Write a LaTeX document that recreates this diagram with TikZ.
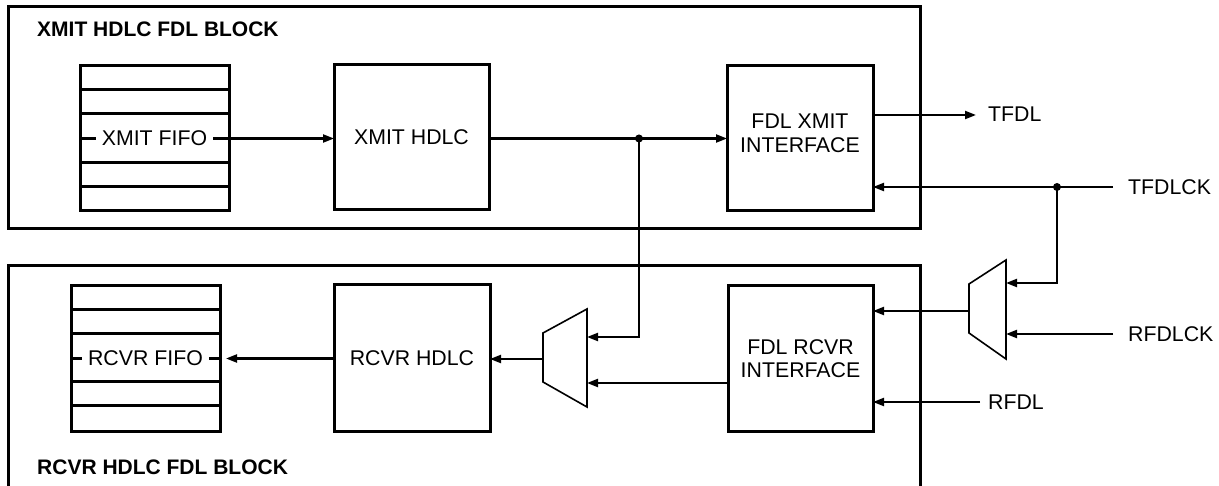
\documentclass[tikz,border=0pt]{standalone}
\usepackage{fontspec}
\setmainfont{Liberation Sans}
\usetikzlibrary{arrows.meta}
\begin{document}
\begin{tikzpicture}[x=1pt,y=-1pt,
  outerblk/.style={line width=3pt},
  box/.style={draw, line width=3pt, outer sep=0pt, inner sep=0pt},
  rowline/.style={line width=3pt},
  conn/.style={line width=2.1pt, -{Triangle[length=11pt,width=8pt]}},
  wire/.style={line width=2.1pt},
  muxs/.style={line width=1.6pt},
  txt/.style={font=\fontsize{21.3}{23.5}\selectfont, inner sep=0pt, align=center},
  ftxt/.style={font=\fontsize{21.3}{23.5}\selectfont, fill=white, inner ysep=1pt, inner xsep=6pt},
  btxt/.style={font=\fontsize{21}{24}\selectfont\bfseries, inner sep=0pt, anchor=west},
  dot/.style={circle, fill, inner sep=0pt, minimum size=8pt}
]
\useasboundingbox (0,0) rectangle (1219,486);
\fill[white] (0,0) rectangle (1219,486);

% outer blocks
\draw[outerblk] (8,7) rectangle (920,229);
\draw[outerblk] (8,492) -- (8,265.5) -- (920,265.5) -- (920,492);
\node[btxt] (ttitle) at (37,29) {XMIT HDLC FDL BLOCK};
\node[btxt] (btitle) at (37,467) {RCVR HDLC FDL BLOCK};

% ---------- transmit side ----------
\node[box, minimum width=149pt, minimum height=145pt] (xfifo) at (154.5,138.5) {};
\foreach \yy in {90,114,163,187} \draw[rowline] (80,\yy) -- (229,\yy);
\draw[wire] (xfifo.west) -- (xfifo.east);
\node[ftxt] (xfifot) at (154.5,138.5) {XMIT FIFO};

\node[box, minimum width=155pt, minimum height=145pt, txt] (xhdlc) at (411.5,137.5) {XMIT HDLC};
\node[box, minimum width=146pt, minimum height=145pt] (fxi) at (800,138.5) {};
\node[txt] (fxit) at (800,133.5) {FDL XMIT\\INTERFACE};

\coordinate (xj) at (639,138.5);
\draw[conn] (xfifo.east) -- (xhdlc.west |- xfifo.east);
\draw[conn] (xhdlc.east |- xj) -- (fxi.west);
\node[dot] (xjd) at (xj) {};

% TFDL output
\coordinate (tfdlend) at (976,115);
\draw[conn] (fxi.east |- tfdlend) -- (tfdlend);
\node[txt, anchor=west] (tfdl) at (988,114) {TFDL};

% TFDLCK input
\coordinate (tck) at (1113,187);
\node[txt, anchor=west] (tfdlck) at (1128,187) {TFDLCK};
\draw[conn] (tck) -- (fxi.east |- tck);
\coordinate (ckj) at (1057,187);
\node[dot] (ckjd) at (ckj) {};

% ---------- right mux ----------
\coordinate (m2a) at (969,284);
\coordinate (m2b) at (1006,260);
\coordinate (m2c) at (1006,359);
\coordinate (m2d) at (969,333);
\draw[muxs] (m2a) -- (m2b) -- (m2c) -- (m2d) -- cycle;
\coordinate (m2in1) at (1006,283);
\coordinate (m2in2) at (1006,334);
\coordinate (m2out) at (969,311);
\draw[conn] (ckj) |- (m2in1);
\coordinate (rck) at (1113,334);
\draw[conn] (rck) -- (m2in2);
\node[txt, anchor=west] (rfdlck) at (1128,334) {RFDLCK};

% ---------- receive side ----------
\node[box, minimum width=145pt, minimum height=145pt] (frx) at (800.5,358.5) {};
\node[txt] (frxt) at (800.5,358.5) {FDL RCVR\\INTERFACE};
\draw[conn] (m2out) -- (frx.east |- m2out);

\coordinate (rfdlin) at (980,402);
\draw[conn] (rfdlin) -- (frx.east |- rfdlin);
\node[txt, anchor=west] (rfdl) at (988,402) {RFDL};

% left mux
\coordinate (m1a) at (543,333);
\coordinate (m1b) at (587,309);
\coordinate (m1c) at (587,407);
\coordinate (m1d) at (543,382);
\draw[muxs] (m1a) -- (m1b) -- (m1c) -- (m1d) -- cycle;
\coordinate (m1in1) at (587,337);
\coordinate (m1in2) at (587,383);
\coordinate (m1out) at (543,359);
\draw[conn] (xj) |- (m1in1);
\draw[conn] (frx.west |- m1in2) -- (m1in2);

\node[box, minimum width=156pt, minimum height=146pt, txt] (rhdlc) at (412,358) {RCVR HDLC};
\draw[conn] (m1out) -- (rhdlc.east |- m1out);

\node[box, minimum width=149pt, minimum height=145pt] (rfifo) at (145.5,358.5) {};
\foreach \yy in {310,334,382,406} \draw[rowline] (71,\yy) -- (220,\yy);
\draw[wire] (rfifo.west) -- (rfifo.east);
\node[ftxt] (rfifot) at (145.5,358.5) {RCVR FIFO};
\draw[conn, shorten >=6pt] (rhdlc.west |- rfifo.east) -- (rfifo.east);
\end{tikzpicture}
\end{document}
